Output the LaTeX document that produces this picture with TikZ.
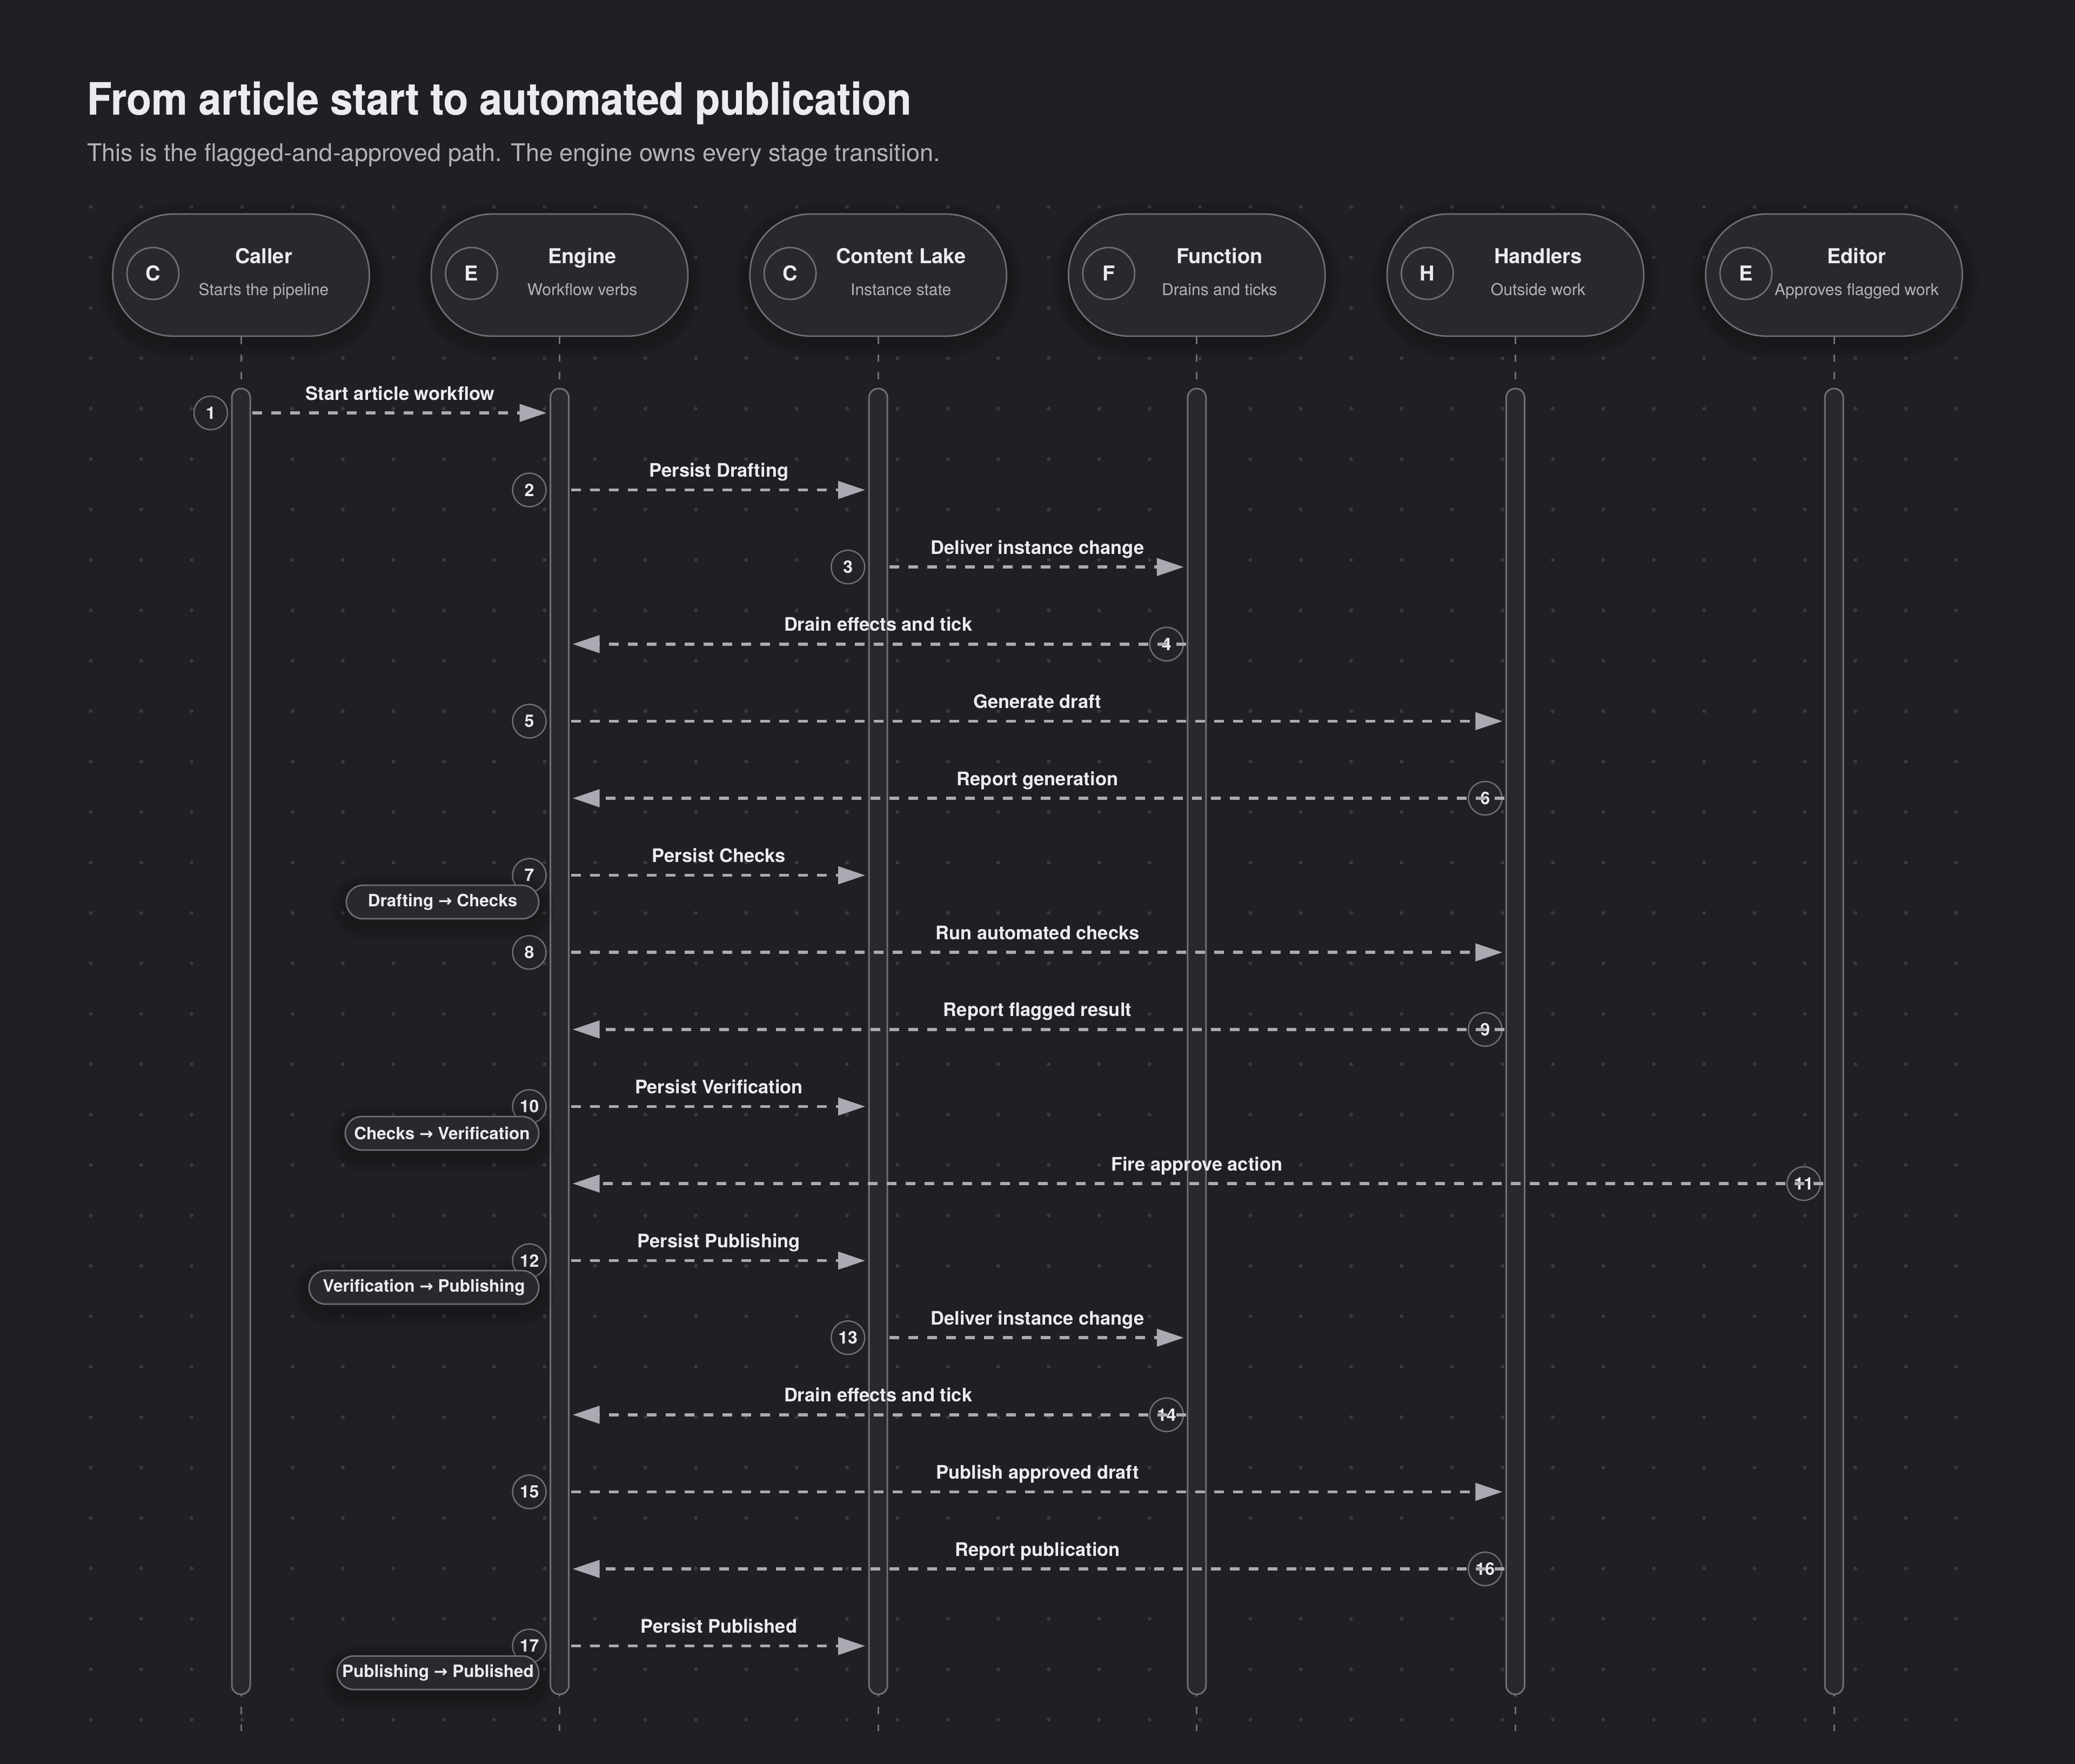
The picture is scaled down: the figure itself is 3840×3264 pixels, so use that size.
\documentclass[tikz,border=0pt]{standalone}
\usepackage{fontspec}
\usepackage{graphicx}
\setmainfont{TeX Gyre Heros}
\newfontfamily\arrowfont{DejaVu Sans}
\newfontface\titlefont{texgyreheros-bold.otf}[FakeBold=0.6]
\usetikzlibrary{arrows.meta}
\definecolor{bgc}{RGB}{31,32,36}
\definecolor{boxfill}{RGB}{40,41,46}
\definecolor{strokeg}{RGB}{111,112,119}
\definecolor{arrowg}{RGB}{170,171,178}
\definecolor{txtw}{RGB}{236,236,240}
\definecolor{subg}{RGB}{178,179,186}
\definecolor{dotc}{RGB}{58,59,65}
\definecolor{numfill}{RGB}{35,36,41}
\newcommand\myfs[1]{\fontsize{#1}{#1}\selectfont}
\newcommand\softshadow[4]{%
  \foreach \s in {1,...,6}{%
    \pgfmathsetmacro\hw{#3/2+\s*5}%
    \pgfmathsetmacro\hh{#4/2+\s*5}%
    \pgfmathsetmacro\rr{\hh*0.2*0.999}%
    \fill[black,opacity=0.035,rounded corners=\rr pt] (#1-\hw,#2+10-\hh) rectangle (#1+\hw,#2+10+\hh);
  }}
\tikzset{
  pbox/.style={draw=strokeg, fill=boxfill, line width=0.55pt, rounded corners=22.5pt,
    minimum width=95pt, minimum height=45.2pt, inner sep=0pt},
  icon/.style={circle, draw=strokeg, fill=boxfill, line width=0.55pt, minimum size=19.2pt,
    inner sep=0pt, text=txtw, font=\myfs{7.6pt}\bfseries},
  ptitle/.style={inner sep=0pt, text=txtw, font=\myfs{7.6pt}\bfseries},
  psub/.style={inner sep=0pt, text=subg, font=\myfs{6pt}},
  lifeline/.style={draw=strokeg, line width=0.6pt, dash pattern=on 2.7pt off 3.8pt},
  actbar/.style={draw=strokeg, fill=boxfill, line width=0.6pt, rounded corners=3.35pt,
    minimum width=6.8pt, minimum height=483.2pt, inner sep=0pt},
  msg/.style={draw=arrowg, line width=1.1pt, dash pattern=on 3.6pt off 3.4pt,
    -{Triangle[length=10pt,width=6.4pt]}},
  num/.style={circle, draw=strokeg, fill=numfill, line width=0.5pt, minimum size=12.4pt,
    inner sep=0pt, text=txtw, font=\myfs{6.4pt}\bfseries},
  lbl/.style={inner sep=0pt, text=txtw, font=\myfs{6.9pt}\bfseries},
  pill/.style={draw=strokeg, fill=boxfill, line width=0.55pt, rounded corners=6.15pt,
    minimum height=12.4pt, inner sep=0pt, text=txtw, font=\myfs{6.3pt}\bfseries}
}
\begin{document}
\begin{tikzpicture}[x=0.2pt,y=-0.2pt]
\useasboundingbox (0,0) rectangle (3840,3264);
\fill[bgc] (0,0) rectangle (3840,3264);
% dot grid
\foreach \i in {0,...,37}{
  \foreach \j in {0,...,30}{
    \fill[dotc] (168+93.3*\i,383+93.3*\j) circle (0.7pt);
  }
}
% title
\node[anchor=base west, inner sep=0pt, text=txtw] (title) at (160,212)
  {\scalebox{0.915}[1]{\myfs{16.4pt}\titlefont From article start to automated publication}};
\node[anchor=base west, inner sep=0pt, text=subg] (subtitle) at (160,299)
  {\myfs{9pt}This is the flagged-and-approved path. The engine owns every stage transition.};
% participants
\foreach \n/\i/\L/\T/\S in {caller/0/C/Caller/Starts the pipeline,
  engine/1/E/Engine/Workflow verbs, lake/2/C/Content Lake/Instance state,
  func/3/F/Function/Drains and ticks, hand/4/H/Handlers/Outside work,
  editor/5/E/Editor/Approves flagged work}{
  \pgfmathsetmacro\X{446+589.6*\i}
  \softshadow{\X}{509}{475}{226}
  \node[pbox] (\n) at (\X,509) {};
  \node[icon] (\n icon) at (\X-163,506) {\L};
  \node[ptitle, anchor=base] (\n title) at (\X+42,487) {\T};
  \node[psub, anchor=base] (\n sub) at (\X+42,546) {\S};
  \coordinate (\n end) at (\X,3203);
  \draw[lifeline] (\n.south) -- (\n end);
  \node[actbar] (\n bar) at (\X,1927) {};
}
% messages
\foreach \mk/\fa/\fb/\lab in {1/0/1/Start article workflow, 2/1/2/Persist Drafting,
  3/2/3/Deliver instance change, 4/3/1/Drain effects and tick, 5/1/4/Generate draft,
  6/4/1/Report generation, 7/1/2/Persist Checks, 8/1/4/Run automated checks,
  9/4/1/Report flagged result, 10/1/2/Persist Verification, 11/5/1/Fire approve action,
  12/1/2/Persist Publishing, 13/2/3/Deliver instance change, 14/3/1/Drain effects and tick,
  15/1/4/Publish approved draft, 16/4/1/Report publication, 17/1/2/Persist Published}{
  \pgfmathsetmacro\yy{764+142.6*(\mk-1)}
  \pgfmathsetmacro\xa{446+589.6*\fa}
  \pgfmathsetmacro\xb{446+589.6*\fb}
  \pgfmathsetmacro\xm{(\xa+\xb)/2}
  \ifnum\fb>\fa
    \pgfmathsetmacro\xs{\xa+21}\pgfmathsetmacro\xe{\xb-24}
  \else
    \pgfmathsetmacro\xs{\xa-20}\pgfmathsetmacro\xe{\xb+24}
  \fi
  \node[num] (n\mk) at (\xa-56,\yy) {\mk};
  \coordinate (ms\mk) at (\xs,\yy);
  \coordinate (me\mk) at (\xe,\yy);
  \draw[msg] (ms\mk) -- (me\mk);
  \node[lbl, anchor=base] (l\mk) at (\xm,\yy-24) {\lab};
}
% state pills
\foreach \mk/\lft/\txt in {7/641/{Drafting {\arrowfont\myfs{6.1pt}→} Checks},
  10/639/{Checks {\arrowfont\myfs{6.1pt}→} Verification},
  12/572/{Verification {\arrowfont\myfs{6.1pt}→} Publishing},
  17/624/{Publishing {\arrowfont\myfs{6.1pt}→} Published}}{
  \pgfmathsetmacro\yy{764+142.6*(\mk-1)+49.5}
  \pgfmathsetmacro\cx{(\lft+997)/2}
  \pgfmathsetmacro\wpx{997-\lft}
  \pgfmathsetmacro\ww{\wpx*0.2}
  \softshadow{\cx}{\yy}{\wpx}{62}
  \node[pill, minimum width=\ww pt] (p\mk) at (\cx,\yy) {\txt};
}
\end{tikzpicture}
\end{document}
